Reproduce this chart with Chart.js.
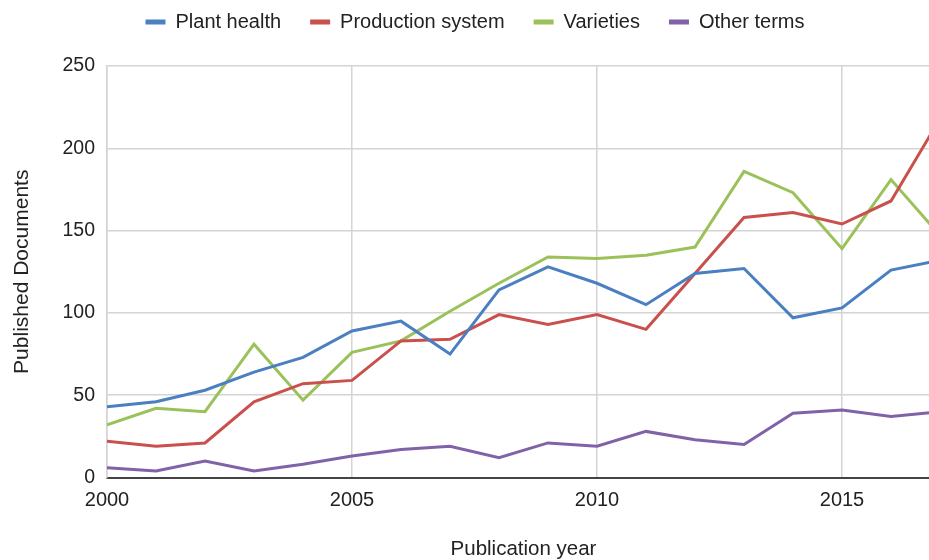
<!DOCTYPE html>
<html>
<head>
<meta charset="utf-8">
<title>Published documents per year</title>
<script src="https://cdn.jsdelivr.net/npm/chart.js@4.4.1/dist/chart.umd.min.js"></script>
<style>
  html, body { margin: 0; padding: 0; overflow: hidden; background: #fff; }
  /* canvas sits a little higher and runs past the right edge of the window */
  #docsChart { display: block; margin-top: -17px; }
</style>
</head>
<body>
<canvas id="docsChart" width="955" height="579"></canvas>
<script>
// Documents published per year, by topic
let years = [2000, 2001, 2002, 2003, 2004, 2005, 2006, 2007, 2008, 2009, 2010, 2011, 2012, 2013, 2014, 2015, 2016, 2017];
let plantHealth      = [43, 46, 53, 64, 73, 89, 95, 75, 114, 128, 118, 105, 124, 127, 97, 103, 126, 132];
let productionSystem = [22, 19, 21, 46, 57, 59, 83, 84, 99, 93, 99, 90, 124, 158, 161, 154, 168, 218];
let varieties        = [32, 42, 40, 81, 47, 76, 83, 101, 118, 134, 133, 135, 140, 186, 173, 139, 181, 147];
let otherTerms       = [6, 4, 10, 4, 8, 13, 17, 19, 12, 21, 19, 28, 23, 20, 39, 41, 37, 40];

let yTicks = [0, 50, 100, 150, 200, 250];
let xTicks = [2000, 2005, 2010, 2015];

Chart.defaults.font.family = "'Liberation Sans', Arial, sans-serif";
Chart.defaults.color = '#222';

function series(label, values, color) {
  return {
    label: label,
    data: years.map((year, i) => ({ x: year, y: values[i] })),
    borderColor: color,
    backgroundColor: color,
    borderWidth: 3,
    pointRadius: 0,
    tension: 0
  };
}

// leave some room between the legend and the plot
const legendGap = {
  id: 'legendGap',
  beforeInit(chart) {
    const fit = chart.legend.fit;
    chart.legend.fit = function () {
      fit.call(this);
      this.height += 24;
    };
  }
};

let ctx = document.getElementById('docsChart').getContext('2d');

let docsChart = new Chart(ctx, {
  type: 'line',
  data: {
    datasets: [
      series('Plant health', plantHealth, '#4a7fc1'),
      series('Production system', productionSystem, '#c9504c'),
      series('Varieties', varieties, '#9bc25a'),
      series('Other terms', otherTerms, '#7f62a8')
    ]
  },
  plugins: [legendGap],
  options: {
    responsive: false,
    animation: false,
    layout: { padding: { left: 10, right: 15, top: 0, bottom: 0 } },
    plugins: {
      tooltip: { enabled: false },
      legend: {
        position: 'top',
        labels: {
          boxWidth: 20,
          boxHeight: 5,
          padding: 29,
          color: '#222',
          font: { size: 20 },
          generateLabels: (chart) =>
            Chart.defaults.plugins.legend.labels.generateLabels(chart)
              .map(item => Object.assign(item, { lineWidth: 0 }))
        }
      }
    },
    scales: {
      x: {
        type: 'linear',
        min: xTicks[0],
        max: years[years.length - 1],
        afterBuildTicks: (scale) => { scale.ticks = xTicks.map(v => ({ value: v })); },
        ticks: {
          padding: 11,
          color: '#222',
          font: { size: 20 },
          callback: (v) => String(v)
        },
        grid: { color: '#d4d4d4', lineWidth: 1.5, drawTicks: false },
        border: { color: '#444', width: 2 },
        title: {
          display: true,
          text: 'Publication year',
          color: '#222',
          font: { size: 20.5 },
          padding: 0
        },
        afterFit: (scale) => { scale.height = 84.5; }
      },
      y: {
        min: yTicks[0],
        max: yTicks[yTicks.length - 1],
        afterBuildTicks: (scale) => { scale.ticks = yTicks.map(v => ({ value: v })); },
        ticks: {
          padding: 12,
          color: '#222',
          font: { size: 19.5 }
        },
        grid: { color: '#d4d4d4', lineWidth: 1.5, drawTicks: false },
        border: { color: '#d4d4d4', width: 1.5 },
        title: {
          display: true,
          text: 'Published Documents',
          color: '#222',
          font: { size: 21 },
          padding: 0
        },
        afterFit: (scale) => { scale.width = 97; }
      }
    }
  }
});
</script>
</body>
</html>
